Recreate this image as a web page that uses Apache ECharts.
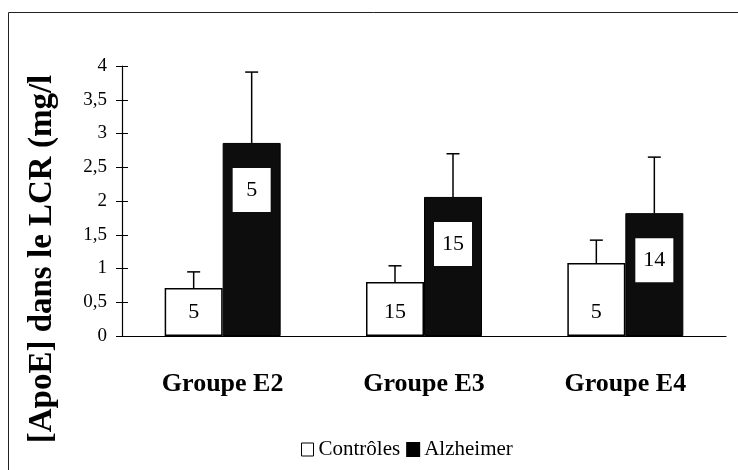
<!DOCTYPE html>
<html>
<head>
<meta charset="utf-8">
<script src="https://cdn.jsdelivr.net/npm/echarts@6/dist/echarts.min.js"></script>
<style>
  html, body { margin: 0; padding: 0; background: #fff; }
  #chart { width: 738px; height: 470px; }
</style>
</head>
<body>
<div id="chart"></div>
<script>
// Valeurs
var categories = ['Groupe E2', 'Groupe E3', 'Groupe E4']
var controles = [0.71, 0.80, 1.08]
var alzheimer = [2.86, 2.06, 1.82]
var controlesSd = [0.24, 0.24, 0.34]
var alzheimerSd = [1.05, 0.64, 0.83]
var controlesN = [5, 15, 5]
var alzheimerN = [5, 15, 14]
var yTicks = [0, 0.5, 1, 1.5, 2, 2.5, 3, 3.5, 4]

var serif = 'Liberation Serif'
var barW = 58

var chart = echarts.init(document.getElementById('chart'))

function errorBar(values, sds, dx) {
  return {
    type: 'custom',
    silent: true,
    z: 5,
    data: values.map(function (v, i) { return [i, v, v + sds[i]] }),
    renderItem: function (params, api) {
      var base = api.coord([api.value(0), api.value(1)])
      var top = api.coord([api.value(0), api.value(2)])
      var x = base[0] + dx
      var st = { stroke: '#000', lineWidth: 1.5 }
      return {
        type: 'group',
        children: [
          { type: 'line', shape: { x1: x, y1: base[1], x2: x, y2: top[1] }, style: st },
          { type: 'line', shape: { x1: x - 6.5, y1: top[1], x2: x + 6.5, y2: top[1] }, style: st }
        ]
      }
    }
  }
}

var yAxisCommon = {
  type: 'value',
  min: 0,
  max: 4,
  interval: 0.5
}

var option = {
  animation: false,
  backgroundColor: '#fff',
  grid: { left: 122, right: 12, top: 66, bottom: 134 },
  legend: {
    left: 296,
    top: 434,
    itemWidth: 12,
    itemHeight: 13,
    itemGap: 6,
    icon: 'rect',
    textStyle: { fontFamily: serif, fontSize: 21, color: '#000' },
    data: [
      { name: 'Contrôles', itemStyle: { color: '#fff', borderColor: '#000', borderWidth: 1 } },
      { name: 'Alzheimer', itemStyle: { color: '#000' } }
    ]
  },
  xAxis: {
    type: 'category',
    data: categories,
    axisLine: { lineStyle: { color: '#000', width: 1.2 } },
    axisTick: { show: false },
    axisLabel: {
      margin: 35,
      fontFamily: serif,
      fontWeight: 'bold',
      fontSize: 26,
      color: '#000'
    }
  },
  yAxis: [
    Object.assign({}, yAxisCommon, {
      axisLine: { show: true, lineStyle: { color: '#000', width: 1.2 } },
      axisTick: { show: true, length: 6, lineStyle: { color: '#000' } },
      splitLine: { show: false },
      axisLabel: {
        margin: 15,
        fontFamily: serif,
        fontSize: 19,
        color: '#000',
        formatter: function (v) {
          return yTicks.indexOf(v) >= 0 ? String(v).replace('.', ',') : ''
        }
      }
    }),
    Object.assign({}, yAxisCommon, {
      position: 'left',
      axisLine: { show: false },
      axisTick: { show: true, inside: true, length: 6, lineStyle: { color: '#000' } },
      splitLine: { show: false },
      axisLabel: { show: false }
    })
  ],
  series: [
    {
      name: 'Contrôles',
      type: 'bar',
      barWidth: barW,
      barGap: '0%',
      data: controles,
      itemStyle: { color: '#fff', borderColor: '#000', borderWidth: 1.5 },
      label: {
        show: true,
        position: 'insideBottom',
        distance: 2,
        height: 44,
        lineHeight: 44,
        fontFamily: serif,
        fontSize: 22,
        color: '#000',
        formatter: function (p) { return controlesN[p.dataIndex] }
      }
    },
    {
      name: 'Alzheimer',
      type: 'bar',
      barWidth: barW,
      barGap: '0%',
      data: alzheimer,
      itemStyle: { color: '#0d0d0d', borderColor: '#000', borderWidth: 1 },
      label: {
        show: true,
        position: 'insideTop',
        distance: 25,
        width: 38,
        height: 44,
        lineHeight: 44,
        align: 'center',
        backgroundColor: '#fff',
        fontFamily: serif,
        fontSize: 22,
        color: '#000',
        formatter: function (p) { return alzheimerN[p.dataIndex] }
      }
    },
    errorBar(controles, controlesSd, -barW / 2),
    errorBar(alzheimer, alzheimerSd, barW / 2)
  ],
  graphic: [
    {
      type: 'rect',
      silent: true,
      shape: { x: 8.5, y: 12.5, width: 800, height: 500 },
      style: { fill: 'none', stroke: '#222', lineWidth: 1 }
    },
    {
      type: 'text',
      x: 42,
      y: 259,
      rotation: Math.PI / 2,
      style: {
        text: '[ApoE] dans le LCR (mg/l',
        font: 'bold 33px "Liberation Serif"',
        fill: '#000',
        align: 'center',
        verticalAlign: 'middle'
      }
    }
  ]
}

chart.setOption(option)
</script>
</body>
</html>
